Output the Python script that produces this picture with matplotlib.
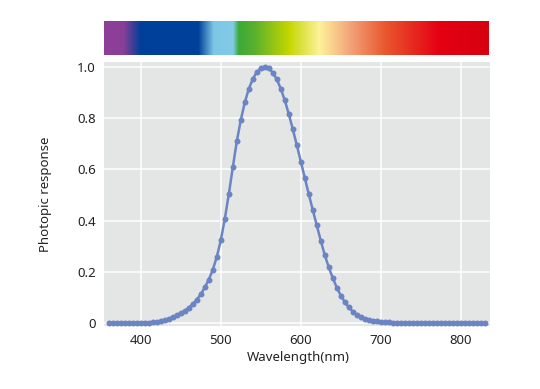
import matplotlib
matplotlib.use("Agg")
import matplotlib.pyplot as plt
import numpy as np
from matplotlib.colors import LinearSegmentedColormap

plt.rcParams['font.family'] = ['Noto Sans', 'DejaVu Sans']

wavelength = [360, 365, 370, 375, 380, 385, 390, 395, 400, 405, 410, 415, 420, 425,
              430, 435, 440, 445, 450, 455, 460, 465, 470, 475, 480, 485, 490, 495,
              500, 505, 510, 515, 520, 525, 530, 535, 540, 545, 550, 555, 560, 565,
              570, 575, 580, 585, 590, 595, 600, 605, 610, 615, 620, 625, 630, 635,
              640, 645, 650, 655, 660, 665, 670, 675, 680, 685, 690, 695, 700, 705,
              710, 715, 720, 725, 730, 735, 740, 745, 750, 755, 760, 765, 770, 775,
              780, 785, 790, 795, 800, 805, 810, 815, 820, 825, 830]
response = [0.0000, 0.0000, 0.0000, 0.0000, 0.0000, 0.0001, 0.0001, 0.0002, 0.0004,
            0.0006, 0.0012, 0.0022, 0.0040, 0.0073, 0.0116, 0.0168, 0.0230, 0.0298,
            0.0380, 0.0480, 0.0600, 0.0739, 0.0910, 0.1126, 0.1390, 0.1693, 0.2080,
            0.2586, 0.3230, 0.4073, 0.5030, 0.6082, 0.7100, 0.7932, 0.8620, 0.9149,
            0.9540, 0.9803, 0.9950, 1.0000, 0.9950, 0.9786, 0.9520, 0.9154, 0.8700,
            0.8163, 0.7570, 0.6949, 0.6310, 0.5668, 0.5030, 0.4412, 0.3810, 0.3210,
            0.2650, 0.2170, 0.1750, 0.1382, 0.1070, 0.0816, 0.0610, 0.0446, 0.0320,
            0.0232, 0.0170, 0.0119, 0.0082, 0.0057, 0.0041, 0.0029, 0.0021, 0.0015,
            0.0010, 0.0007, 0.0005, 0.0004, 0.0002, 0.0002, 0.0001, 0.0001, 0.0001,
            0.0000, 0.0000, 0.0000, 0.0000, 0.0000, 0.0000, 0.0000, 0.0000, 0.0000,
            0.0000, 0.0000, 0.0000, 0.0000, 0.0000]

x_ticks = [400, 500, 600, 700, 800]
y_ticks = [0, 0.2, 0.4, 0.6, 0.8, 1.0]
y_tick_labels = ["0", "0.2", "0.4", "0.6", "0.8", "1.0"]

spectrum_stops = [
    (0.00, "#8e3f97"), (0.05, "#8a3f97"), (0.095, "#00409a"), (0.245, "#00409a"),
    (0.285, "#7ec6e6"), (0.335, "#82cbe6"), (0.350, "#3aaa38"), (0.390, "#58b02e"),
    (0.480, "#c4d600"), (0.560, "#fdf29a"), (0.640, "#f3a37a"), (0.730, "#e8582f"),
    (0.870, "#e50012"), (1.00, "#d6000f"),
]

W, H = 540, 389
fig = plt.figure(figsize=(W / 100, H / 100), dpi=100)

# spectrum bar
cax = fig.add_axes([104 / W, 1 - 55 / H, 385 / W, 34 / H])
cmap = LinearSegmentedColormap.from_list("spec", spectrum_stops, N=1024)
cax.imshow(np.linspace(0, 1, 1024)[None, :], aspect="auto", cmap=cmap,
           extent=[0, 1, 0, 1])
cax.set_axis_off()

ax = fig.add_axes([104 / W, 1 - 326 / H, 386 / W, 264 / H])
ax.set_facecolor("#e4e5e5")
for s in ax.spines.values():
    s.set_visible(False)
ax.grid(True, color="white", linewidth=1.1)
ax.set_axisbelow(True)

ax.plot(wavelength, response, color="#6a84c4", linewidth=1.8, marker="o",
        markersize=4.3, markeredgewidth=0, clip_on=False, zorder=3)

ax.set_xlim(354, 836.5)
ax.set_ylim(-0.012, 1.02)
ax.set_xticks(x_ticks)
ax.set_yticks(y_ticks)
ax.set_yticklabels(y_tick_labels)
ax.tick_params(length=0, labelsize=9.5, colors="#222222", pad=6)

fig.text(298 / W, 1 - 357 / H, "Wavelength(nm)", ha="center", va="center",
         fontsize=9.5, color="#222222")
fig.text(45 / W, 1 - 194 / H, "Photopic response", ha="center", va="center",
         rotation=90, fontsize=9.5, color="#222222")

fig.savefig("out.png", dpi=100, facecolor="white")
